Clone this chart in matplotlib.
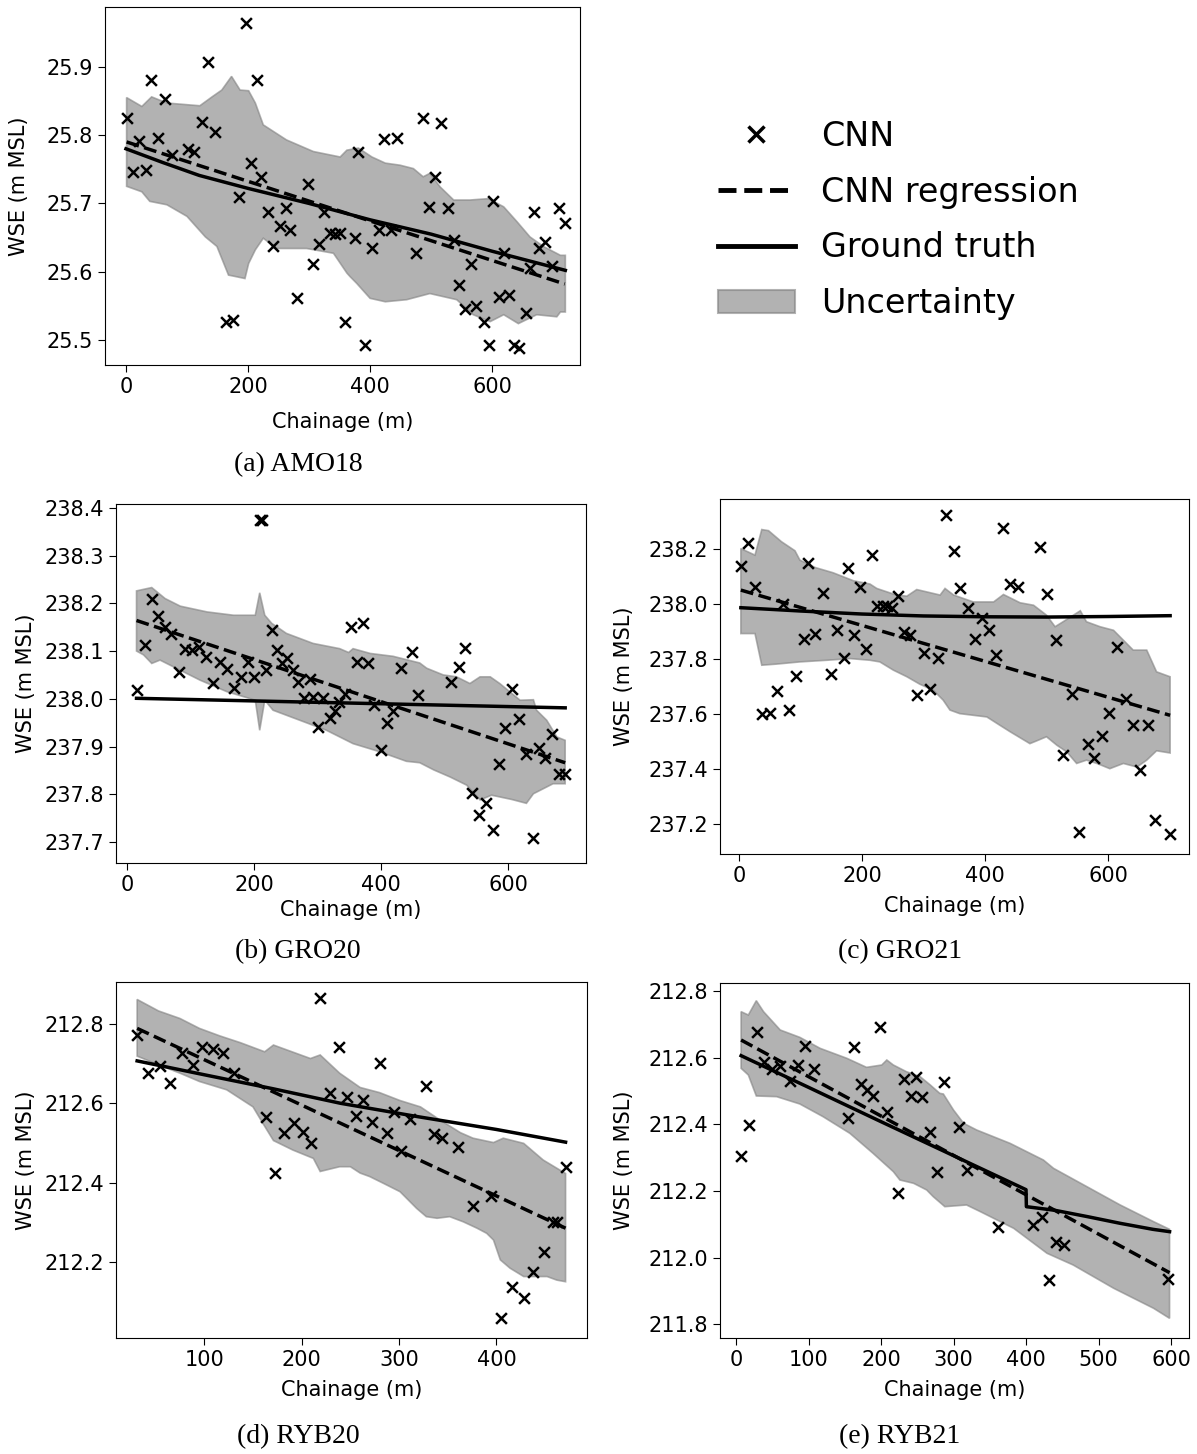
import numpy as np
import matplotlib.pyplot as plt
from matplotlib.ticker import MultipleLocator, ScalarFormatter
from matplotlib.lines import Line2D
from matplotlib.patches import Patch

# (a) AMO18
a_x = [2, 12, 22, 33, 41, 53, 64, 76, 101, 111, 124, 134, 146, 164, 176, 186, 196, 205, 215, 222,
       233, 241, 252, 262, 269, 280, 299, 307, 316, 325, 334, 343, 351, 359, 375, 381, 392, 403, 414,
       422, 434, 444, 475, 486, 497, 507, 517, 527, 538, 545, 556, 566, 573, 586, 595, 602, 611, 620,
       628, 636, 644, 655, 662, 668, 676, 687, 698, 709, 719]
a_y = [25.825, 25.746, 25.791, 25.749, 25.880, 25.796, 25.853, 25.771, 25.779, 25.776, 25.819, 25.907,
       25.805, 25.526, 25.530, 25.709, 25.964, 25.759, 25.880, 25.739, 25.688, 25.638, 25.667, 25.694,
       25.661, 25.561, 25.728, 25.611, 25.640, 25.688, 25.656, 25.655, 25.656, 25.527, 25.650, 25.775,
       25.492, 25.635, 25.661, 25.795, 25.661, 25.796, 25.628, 25.825, 25.695, 25.738, 25.818, 25.693,
       25.647, 25.580, 25.545, 25.612, 25.550, 25.527, 25.492, 25.704, 25.563, 25.628, 25.566, 25.492,
       25.488, 25.540, 25.605, 25.687, 25.634, 25.643, 25.609, 25.694, 25.672]
a_hi_x = [1, 26, 42, 67, 121, 141, 157, 173, 187, 201, 212, 225, 263, 307, 351, 362, 381, 403, 425,
          449, 471, 487, 498, 515, 537, 564, 594, 619, 641, 662, 684, 712, 720]
a_hi_y = [25.855, 25.842, 25.856, 25.847, 25.843, 25.856, 25.866, 25.886, 25.866, 25.865, 25.847,
          25.815, 25.793, 25.776, 25.768, 25.778, 25.781, 25.768, 25.759, 25.756, 25.751, 25.739,
          25.744, 25.724, 25.705, 25.705, 25.707, 25.695, 25.673, 25.651, 25.637, 25.624, 25.624]
a_lo_x = [1, 26, 39, 67, 100, 130, 149, 168, 179, 195, 201, 212, 225, 247, 296, 340, 362, 367, 378,
          400, 425, 460, 498, 542, 569, 597, 619, 643, 673, 706, 712, 720]
a_lo_y = [25.725, 25.717, 25.703, 25.698, 25.681, 25.651, 25.637, 25.595, 25.593, 25.590, 25.612,
          25.632, 25.649, 25.634, 25.634, 25.627, 25.598, 25.593, 25.583, 25.561, 25.556, 25.559,
          25.568, 25.559, 25.537, 25.527, 25.537, 25.524, 25.537, 25.534, 25.541, 25.541]
a_gt_x = [0, 60, 120, 200, 300, 400, 500, 600, 720]
a_gt_y = [25.780, 25.760, 25.741, 25.722, 25.700, 25.676, 25.655, 25.630, 25.602]
a_reg_x = [1, 719]
a_reg_y = [25.790, 25.582]

# (b) GRO20
b_x = [15, 28, 39, 49, 60, 70, 82, 91, 102, 114, 125, 136, 146, 157, 169, 180, 190, 200, 209, 212,
       219, 228, 236, 244, 252, 261, 270, 279, 288, 293, 301, 309, 319, 328, 334, 343, 352, 362, 371,
       380, 389, 400, 409, 419, 431, 449, 458, 510, 523, 533, 544, 554, 565, 577, 586, 596, 607, 618,
       628, 639, 649, 659, 670, 681, 690]
b_y = [238.018, 238.113, 238.208, 238.173, 238.151, 238.135, 238.057, 238.105, 238.102, 238.109,
       238.087, 238.034, 238.078, 238.062, 238.022, 238.046, 238.078, 238.046, 238.375, 238.375,
       238.061, 238.145, 238.102, 238.075, 238.085, 238.061, 238.036, 238.001, 238.041, 238.003,
       237.941, 238.001, 237.959, 237.975, 237.994, 238.011, 238.150, 238.078, 238.158, 238.074,
       237.987, 237.892, 237.950, 237.975, 238.064, 238.099, 238.008, 238.036, 238.066, 238.107,
       237.803, 237.757, 237.782, 237.726, 237.863, 237.938, 238.020, 237.957, 237.884, 237.709,
       237.897, 237.875, 237.926, 237.843, 237.843]
b_hi_x = [15, 39, 60, 84, 126, 168, 202, 209, 217, 228, 251, 293, 335, 349, 356, 383, 419, 461, 472,
          498, 519, 540, 556, 572, 587, 619, 640, 645, 661, 677, 690]
b_hi_y = [238.226, 238.233, 238.210, 238.194, 238.182, 238.175, 238.175, 238.222, 238.175, 238.158,
          238.137, 238.116, 238.105, 238.097, 238.105, 238.095, 238.089, 238.075, 238.064, 238.050,
          238.046, 238.032, 238.046, 238.046, 238.032, 237.997, 237.998, 237.976, 237.955, 237.920,
          237.913]
b_lo_x = [15, 26, 39, 52, 73, 115, 157, 202, 209, 217, 230, 272, 314, 356, 398, 440, 461, 483, 509,
          535, 556, 574, 606, 629, 640, 671, 690]
b_lo_y = [238.100, 238.092, 238.074, 238.081, 238.067, 238.039, 238.015, 237.997, 237.934, 237.997,
          237.976, 237.955, 237.934, 237.906, 237.889, 237.869, 237.866, 237.851, 237.836, 237.819,
          237.788, 237.798, 237.789, 237.781, 237.801, 237.822, 237.822]
b_gt_x = [15, 690]
b_gt_y = [238.001, 237.981]
b_reg_x = [15, 690]
b_reg_y = [238.164, 237.866]

# (c) GRO21
c_x = [3, 14, 26, 37, 50, 61, 71, 82, 93, 105, 113, 124, 136, 149, 160, 170, 178, 187, 197, 206,
       216, 224, 234, 240, 248, 258, 268, 278, 289, 301, 311, 323, 336, 349, 359, 373, 384, 395, 407,
       418, 429, 441, 453, 489, 501, 515, 527, 541, 553, 567, 577, 590, 602, 615, 629, 641, 652, 665,
       676, 700]
c_y = [238.139, 238.221, 238.063, 237.599, 237.606, 237.684, 237.999, 237.615, 237.739, 237.875,
       238.150, 237.891, 238.041, 237.745, 237.905, 237.803, 238.132, 237.886, 238.063, 237.836,
       238.178, 237.993, 237.993, 237.993, 237.987, 238.029, 237.899, 237.887, 237.669, 237.824,
       237.693, 237.803, 238.324, 238.193, 238.057, 237.987, 237.872, 237.948, 237.905, 237.815,
       238.278, 238.073, 238.061, 238.209, 238.036, 237.869, 237.453, 237.675, 237.172, 237.493,
       237.442, 237.520, 237.603, 237.845, 237.655, 237.562, 237.396, 237.562, 237.217, 237.166]
c_hi_x = [3, 26, 37, 48, 69, 91, 99, 124, 153, 186, 213, 224, 256, 273, 289, 327, 335, 349, 381,
          414, 430, 457, 479, 500, 514, 527, 555, 565, 587, 609, 625, 641, 663, 679, 701]
c_hi_y = [238.202, 238.178, 238.271, 238.267, 238.227, 238.194, 238.160, 238.133, 238.114, 238.085,
          238.073, 238.057, 238.033, 238.029, 238.053, 238.033, 238.057, 238.033, 238.008, 238.008,
          238.035, 238.005, 237.996, 237.960, 237.918, 237.936, 237.976, 237.936, 237.918, 237.905,
          237.869, 237.833, 237.833, 237.754, 237.736]
c_lo_x = [3, 26, 37, 61, 99, 143, 181, 213, 229, 251, 273, 294, 316, 332, 343, 359, 403, 424, 441,
          473, 484, 500, 517, 533, 549, 565, 582, 603, 625, 647, 663, 679, 701]
c_lo_y = [237.893, 237.893, 237.778, 237.782, 237.790, 237.796, 237.802, 237.796, 237.790, 237.760,
          237.736, 237.709, 237.687, 237.651, 237.615, 237.602, 237.590, 237.560, 237.536, 237.493,
          237.503, 237.518, 237.487, 237.463, 237.421, 237.433, 237.421, 237.402, 237.421, 237.408,
          237.433, 237.467, 237.459]
c_gt_x = [3, 100, 200, 300, 400, 500, 600, 701]
c_gt_y = [237.987, 237.975, 237.964, 237.957, 237.954, 237.953, 237.955, 237.958]
c_reg_x = [3, 701]
c_reg_y = [238.051, 237.596]

# (d) RYB20
d_x = [31, 42, 54, 65, 77, 88, 98, 109, 119, 130, 163, 173, 182, 192, 201, 210, 219, 229, 238, 247,
       256, 263, 272, 280, 288, 295, 302, 311, 328, 336, 344, 361, 376, 394, 405, 416, 428, 438, 449,
       458, 462, 471]
d_y = [212.772, 212.676, 212.694, 212.650, 212.726, 212.697, 212.741, 212.737, 212.726, 212.677,
       212.566, 212.425, 212.524, 212.551, 212.527, 212.499, 212.865, 212.627, 212.743, 212.617,
       212.569, 212.608, 212.552, 212.702, 212.526, 212.579, 212.480, 212.560, 212.644, 212.522,
       212.512, 212.491, 212.341, 212.367, 212.059, 212.137, 212.110, 212.175, 212.226, 212.301,
       212.301, 212.440]
d_hi_x = [31, 53, 75, 95, 116, 137, 162, 171, 190, 209, 219, 239, 260, 280, 301, 322, 342, 363, 376,
          397, 407, 428, 448, 471]
d_hi_y = [212.862, 212.833, 212.814, 212.789, 212.770, 212.753, 212.730, 212.747, 212.730, 212.713,
          212.722, 212.676, 212.640, 212.627, 212.607, 212.591, 212.558, 212.526, 212.512, 212.501,
          212.512, 212.499, 212.457, 212.423]
d_lo_x = [31, 53, 75, 95, 123, 150, 160, 171, 191, 212, 219, 239, 250, 260, 270, 284, 301, 318, 328,
          339, 352, 366, 380, 390, 397, 404, 414, 428, 452, 462, 471]
d_lo_y = [212.719, 212.697, 212.676, 212.655, 212.634, 212.591, 212.550, 212.506, 212.482, 212.461,
          212.428, 212.440, 212.440, 212.424, 212.415, 212.398, 212.377, 212.335, 212.314, 212.310,
          212.314, 212.301, 212.285, 212.272, 212.255, 212.205, 212.184, 212.163, 212.163, 212.154,
          212.150]
d_gt_x = [31, 100, 170, 240, 320, 400, 471]
d_gt_y = [212.707, 212.672, 212.637, 212.600, 212.566, 212.534, 212.502]
d_reg_x = [31, 471]
d_reg_y = [212.789, 212.285]

# (e) RYB21
e_x = [7, 18, 29, 39, 49, 61, 74, 85, 95, 107, 155, 163, 172, 180, 189, 199, 208, 223, 232, 241,
       248, 256, 267, 277, 287, 308, 319, 362, 410, 422, 432, 442, 452, 596]
e_y = [212.306, 212.398, 212.676, 212.586, 212.566, 212.576, 212.531, 212.578, 212.635, 212.566,
       212.420, 212.633, 212.520, 212.503, 212.486, 212.693, 212.438, 212.195, 212.536, 212.486,
       212.543, 212.481, 212.376, 212.258, 212.528, 212.393, 212.263, 212.093, 212.098, 212.123,
       211.933, 212.046, 212.038, 211.935]
e_hi_x = [7, 17, 28, 38, 61, 88, 116, 153, 180, 201, 208, 217, 235, 254, 268, 281, 286, 300, 314,
          332, 378, 424, 438, 484, 530, 576, 598]
e_hi_y = [212.738, 212.728, 212.771, 212.738, 212.683, 212.661, 212.628, 212.598, 212.571, 212.578,
          212.593, 212.578, 212.558, 212.543, 212.518, 212.493, 212.491, 212.443, 212.403, 212.383,
          212.343, 212.293, 212.268, 212.213, 212.158, 212.108, 212.085]
e_lo_x = [7, 17, 28, 56, 88, 120, 157, 189, 217, 226, 245, 263, 272, 288, 318, 337, 383, 429, 465,
          521, 576, 598]
e_lo_y = [212.568, 212.548, 212.485, 212.483, 212.461, 212.423, 212.373, 212.313, 212.258, 212.233,
          212.223, 212.203, 212.183, 212.153, 212.158, 212.138, 212.088, 212.013, 211.978, 211.908,
          211.848, 211.818]
e_gt_x = [7, 100, 200, 300, 400, 400.5, 440, 485, 530, 575, 598]
e_gt_y = [212.606, 212.511, 212.408, 212.306, 212.204, 212.153, 212.142, 212.123, 212.103, 212.085,
          212.078]
e_reg_x = [7, 598]
e_reg_y = [212.653, 211.955]

W, H = 1197, 1454
fig = plt.figure(figsize=(W / 100, H / 100), dpi=100)


def rect(l, t, r, b):
    return [l / W, 1 - b / H, (r - l) / W, (b - t) / H]


panels = [
    # data, pixel box, xlim, ylim, xstep, ystep, caption, caption pos, ylabel pad, xlabel pad
    ((a_x, a_y, a_hi_x, a_hi_y, a_lo_x, a_lo_y, a_gt_x, a_gt_y, a_reg_x, a_reg_y),
     (105, 7, 580, 365), (-34.4, 744), (25.4634, 25.9876), 200, 0.1, '(a) AMO18', (298, 465), 12.6, 11),
    ((b_x, b_y, b_hi_x, b_hi_y, b_lo_x, b_lo_y, b_gt_x, b_gt_y, b_reg_x, b_reg_y),
     (116, 504, 586, 863), (-17.3, 722.8), (237.656, 238.408), 200, 0.1, '(b) GRO20', (298, 952), 6.2, 4),
    ((c_x, c_y, c_hi_x, c_hi_y, c_lo_x, c_lo_y, c_gt_x, c_gt_y, c_reg_x, c_reg_y),
     (720, 499, 1189, 854), (-30.9, 731.7), (237.092, 238.382), 200, 0.2, '(c) GRO21', (900, 952), 10.5, 7),
    ((d_x, d_y, d_hi_x, d_hi_y, d_lo_x, d_lo_y, d_gt_x, d_gt_y, d_reg_x, d_reg_y),
     (116, 982, 587, 1338), (9.3, 493), (212.008, 212.906), 100, 0.2, '(d) RYB20', (298, 1437), 6.2, 7.5),
    ((e_x, e_y, e_hi_x, e_hi_y, e_lo_x, e_lo_y, e_gt_x, e_gt_y, e_reg_x, e_reg_y),
     (720, 983, 1189, 1338), (-22.1, 624.8), (211.759, 212.824), 100, 0.2, '(e) RYB21', (900, 1437), 10.5, 7.5),
]

for data, box, xl, yl, xs, ys, cap, cpos, ypad, xpad in panels:
    x, y, hx, hy, lx, ly, gx, gy, rx, ry = data
    ax = fig.add_axes(rect(*box))
    # uncertainty band as a polygon (upper edge then lower edge back)
    ax.fill(list(hx) + list(lx)[::-1], list(hy) + list(ly)[::-1],
            color='grey', alpha=0.6, lw=1.2)
    ax.plot(rx, ry, 'k--', lw=2.5)
    ax.plot(gx, gy, 'k-', lw=2.5)
    ax.scatter(x, y, marker='x', color='k', s=60, linewidths=1.8, zorder=3)
    ax.set_xlim(*xl)
    ax.set_ylim(*yl)
    ax.xaxis.set_major_locator(MultipleLocator(xs))
    ax.yaxis.set_major_locator(MultipleLocator(ys))
    fmt = ScalarFormatter(useOffset=False)
    ax.yaxis.set_major_formatter(fmt)
    ax.tick_params(labelsize=15, length=5)
    ax.set_xlabel('Chainage (m)', fontsize=15, labelpad=xpad)
    ax.set_ylabel('WSE (m MSL)', fontsize=15, labelpad=ypad)
    fig.text(cpos[0] / W, 1 - cpos[1] / H, cap, ha='center', va='center',
             family='Liberation Serif', fontsize=20)

# legend
handles = [
    Line2D([], [], ls='none', marker='x', color='k', markersize=11, mew=2.5),
    Line2D([], [], ls='--', color='k', lw=3.5),
    Line2D([], [], ls='-', color='k', lw=3.5),
    Patch(facecolor='grey', edgecolor='grey', alpha=0.6, lw=1.5),
]
labels = ['CNN', 'CNN regression', 'Ground truth', 'Uncertainty']
fig.legend(handles, labels, loc='upper left', bbox_to_anchor=(688 / W, 1 - 90 / H),
           frameon=False, fontsize=24, handlelength=2.3, handletextpad=0.8,
           labelspacing=0.68)

plt.savefig('out.png', dpi=100)
